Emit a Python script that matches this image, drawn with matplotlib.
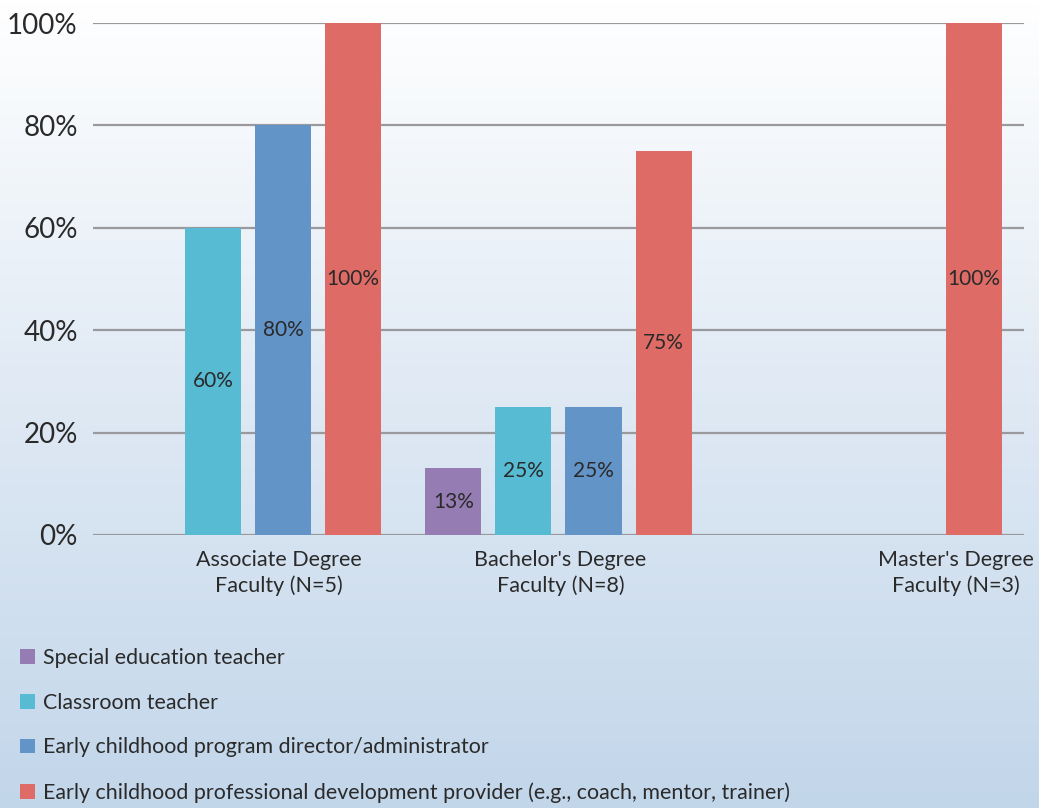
import numpy as np
import matplotlib
matplotlib.use("Agg")
import matplotlib.pyplot as plt
from matplotlib.colors import LinearSegmentedColormap

plt.rcParams['font.family'] = ['Lato', 'DejaVu Sans']

groups = ["Associate Degree\nFaculty (N=5)", "Bachelor's Degree\nFaculty (N=8)", "Master's Degree\nFaculty (N=3)"]
series = ["Special education teacher",
          "Classroom teacher",
          "Early childhood program director/administrator",
          "Early childhood professional development provider (e.g., coach, mentor, trainer)"]
special_ed = [0, 13, 0]
classroom = [60, 25, 0]
director = [80, 25, 0]
pd_provider = [100, 75, 100]
colors = ["#957cb3", "#56bbd3", "#6294c7", "#de6b65"]

values = [special_ed, classroom, director, pd_provider]

fig = plt.figure(figsize=(10.39, 8.08), dpi=100)

# gradient background
bg = fig.add_axes([0, 0, 1, 1], zorder=-10)
cmap = LinearSegmentedColormap.from_list("bg", ["#ffffff", "#dfe9f4", "#c2d6ea"])
bg.imshow(np.linspace(0, 1, 256).reshape(-1, 1), aspect='auto', cmap=cmap, extent=[0, 1, 0, 1])
bg.axis('off')

ax = fig.add_axes([0.0895, 0.338, 0.896, 0.6335])
ax.set_facecolor('none')

x = np.arange(len(groups))
slot = 70 / 310
width = 56 / 310
handles = []
for i, (vals, c) in enumerate(zip(values, colors)):
    pos = x + (i - 1.5) * slot
    bars = ax.bar(pos, vals, width, color=c, zorder=3, label=series[i])
    handles.append(bars)
    for xp, v in zip(pos, vals):
        if v > 0:
            ax.text(xp, v / 2, "%d%%" % v, ha='center', va='center',
                    fontsize=15, color='#2a2a2a', zorder=4)

ax.set_xlim(-0.5, 2.5)
ax.set_ylim(0, 100)
ax.set_yticks(range(0, 101, 20))
ax.set_yticklabels(["%d%%" % t for t in range(0, 101, 20)], fontsize=20, color='#2a2a2a')
ax.yaxis.grid(True, color='#9a9a9e', linewidth=1.6, zorder=0)
ax.tick_params(axis='y', length=0, pad=11)
ax.set_xticks([0.10, 1.006, 2.28])
ax.set_xticklabels(groups, fontsize=15.5, color='#2a2a2a', linespacing=1.3)
ax.tick_params(axis='x', length=0, pad=11)
for s in ax.spines.values():
    s.set_visible(False)

fig.legend(handles=handles, labels=series, loc='upper left',
           bbox_to_anchor=(0.001, 0.222), frameon=False, fontsize=15.4,
           handlelength=0.7, handleheight=0.7, handletextpad=0.35,
           labelspacing=1.16, labelcolor='#2a2a2a')

fig.savefig("out.png", dpi=100)
